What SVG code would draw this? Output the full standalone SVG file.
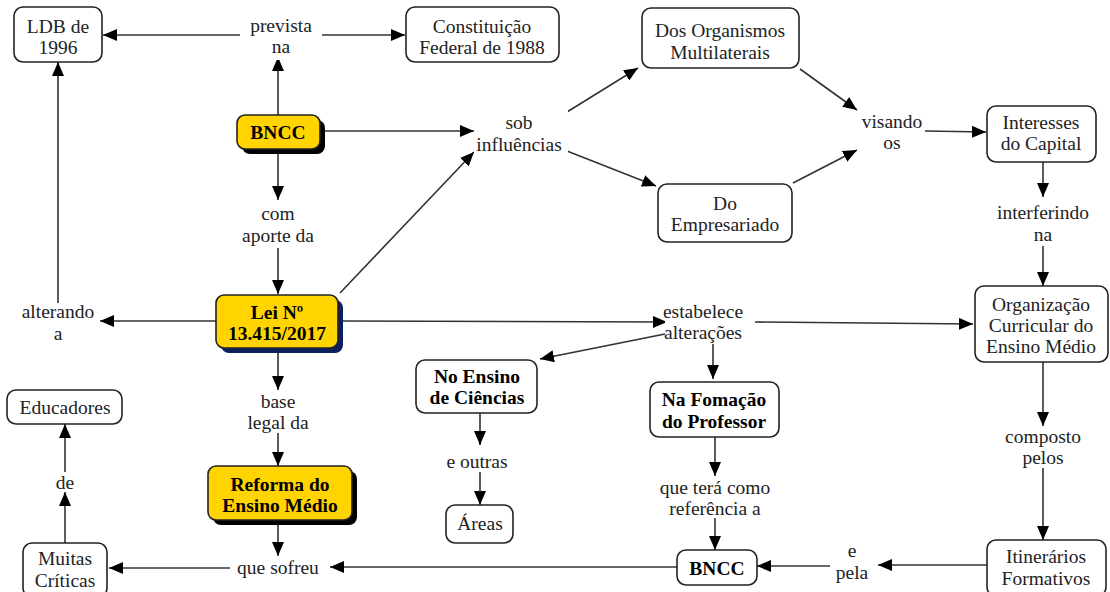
<svg xmlns="http://www.w3.org/2000/svg" width="1110" height="592" viewBox="0 0 1110 592">
<defs>
<marker id="ah" markerWidth="14" markerHeight="12" refX="14" refY="6" orient="auto" markerUnits="userSpaceOnUse">
<path d="M0,0 L14,6 L0,12 z" fill="#000"/>
</marker>
<style>
.box{fill:#fff;stroke:#222;stroke-width:1.6}
.ybox{fill:#ffd400;stroke:#222;stroke-width:1.6}
.sh{fill:#000}
.shb{fill:#0d1f5e}
.t{font-family:"Liberation Serif","Times New Roman",serif;font-size:19.5px;fill:#222;text-anchor:middle;dominant-baseline:central}
.b{font-weight:bold;fill:#000}
.c line,.c path{stroke:#333;stroke-width:1.6;fill:none}
.a{marker-end:url(#ah)}
</style>
</defs>
<rect width="1110" height="592" fill="#fff"/>
<g class="c" id="connectors">
<line class="a" x1="240" y1="35" x2="103" y2="35"/>
<line class="a" x1="322" y1="35" x2="405" y2="35"/>
<line class="a" x1="278" y1="115" x2="278" y2="57"/>
<line class="a" x1="325" y1="131" x2="474" y2="131"/>
<line class="a" x1="567" y1="112" x2="638" y2="68"/>
<line class="a" x1="567" y1="151" x2="656" y2="186"/>
<line class="a" x1="800" y1="69" x2="857" y2="110"/>
<line class="a" x1="793" y1="183" x2="857" y2="150"/>
<line class="a" x1="925" y1="131" x2="986" y2="132"/>
<line class="a" x1="1043" y1="162" x2="1043" y2="197"/>
<line class="a" x1="1043" y1="246" x2="1043" y2="286"/>
<line class="a" x1="1043" y1="362" x2="1043" y2="426"/>
<line class="a" x1="1043" y1="468" x2="1043" y2="540"/>
<line class="a" x1="987" y1="565" x2="878" y2="565"/>
<line class="a" x1="830" y1="566" x2="757" y2="566"/>
<line class="a" x1="677" y1="567" x2="330" y2="567"/>
<line class="a" x1="278" y1="524" x2="278" y2="556"/>
<line class="a" x1="232" y1="568" x2="109" y2="568"/>
<line class="a" x1="65" y1="543" x2="65" y2="492"/>
<line class="a" x1="65" y1="472" x2="65" y2="424"/>
<line class="a" x1="278" y1="148" x2="278" y2="200"/>
<line class="a" x1="278" y1="248" x2="278" y2="294"/>
<line class="a" x1="216" y1="321" x2="100" y2="321"/>
<line class="a" x1="58" y1="303" x2="58" y2="62"/>
<line class="a" x1="340" y1="293" x2="474" y2="152"/>
<line class="a" x1="343" y1="321" x2="667" y2="322"/>
<line class="a" x1="755" y1="322" x2="973" y2="324"/>
<line class="a" x1="665" y1="334" x2="540" y2="359"/>
<line class="a" x1="713" y1="343" x2="713" y2="379"/>
<line class="a" x1="480" y1="413" x2="480" y2="445"/>
<line class="a" x1="480" y1="472" x2="480" y2="505"/>
<line class="a" x1="715" y1="437" x2="715" y2="476"/>
<line class="a" x1="715" y1="518" x2="715" y2="550"/>
<line class="a" x1="278" y1="348" x2="278" y2="390"/>
<line class="a" x1="278" y1="433" x2="278" y2="466"/>
</g>
<g id="labels">
<rect x="240" y="14" width="82" height="46" fill="#fff"/>
<text class="t" x="281" y="25">prevista</text><text class="t" x="281" y="46">na</text>
<rect x="474" y="110" width="94" height="46" fill="#fff"/>
<text class="t" x="519" y="122">sob</text><text class="t" x="519" y="144">influências</text>
<rect x="857" y="110" width="68" height="44" fill="#fff"/>
<text class="t" x="892" y="121">visando</text><text class="t" x="892" y="142">os</text>
<rect x="991" y="200" width="104" height="46" fill="#fff"/>
<text class="t" x="1043" y="212">interferindo</text><text class="t" x="1043" y="234">na</text>
<rect x="1003" y="426" width="80" height="42" fill="#fff"/>
<text class="t" x="1043" y="436">composto</text><text class="t" x="1043" y="457">pelos</text>
<text class="t" x="852" y="550">e</text><text class="t" x="852" y="572">pela</text>
<rect x="230" y="556" width="96" height="24" fill="#fff"/>
<text class="t" x="278" y="567">que sofreu</text>
<rect x="50" y="472" width="30" height="20" fill="#fff"/>
<text class="t" x="65" y="482">de</text>
<rect x="252" y="200" width="52" height="48" fill="#fff"/>
<text class="t" x="278" y="213">com</text><text class="t" x="278" y="235">aporte da</text>
<rect x="16" y="303" width="84" height="40" fill="#fff"/>
<text class="t" x="58" y="311">alterando</text><text class="t" x="58" y="333">a</text>
<rect x="665" y="300" width="90" height="44" fill="#fff"/>
<text class="t" x="703" y="311">estabelece</text><text class="t" x="703" y="332">alterações</text>
<text class="t" x="477" y="461">e outras</text>
<rect x="650" y="476" width="130" height="42" fill="#fff"/>
<text class="t" x="715" y="487">que terá como</text><text class="t" x="715" y="508">referência a</text>
<rect x="244" y="390" width="68" height="43" fill="#fff"/>
<text class="t" x="278" y="401">base</text><text class="t" x="278" y="422">legal da</text>
</g>
<g id="ldb"><rect class="box" x="14" y="7" width="88" height="55" rx="9"/><text class="t" x="58" y="26">LDB de</text><text class="t" x="58" y="47">1996</text></g>
<g id="constituicao"><rect class="box" x="406" y="7" width="153" height="55" rx="9"/><text class="t" x="482" y="26">Constituição</text><text class="t" x="482" y="47">Federal de 1988</text></g>
<g id="bncc-top"><rect class="sh" x="242" y="120" width="83" height="34" rx="8"/><rect class="ybox" x="237" y="115" width="83" height="34" rx="8"/><text class="t b" x="278" y="132">BNCC</text></g>
<g id="organismos"><rect class="box" x="642" y="8" width="157" height="60" rx="9"/><text class="t" x="720" y="30">Dos Organismos</text><text class="t" x="720" y="52">Multilaterais</text></g>
<g id="empresariado"><rect class="box" x="658" y="184" width="134" height="58" rx="9"/><text class="t" x="725" y="203">Do</text><text class="t" x="725" y="224">Empresariado</text></g>
<g id="interesses"><rect class="box" x="987" y="106" width="109" height="56" rx="9"/><text class="t" x="1041" y="122">Interesses</text><text class="t" x="1041" y="143">do Capital</text></g>
<g id="organizacao"><rect class="box" x="975" y="286" width="133" height="76" rx="9"/><text class="t" x="1041" y="304">Organização</text><text class="t" x="1041" y="325">Curricular do</text><text class="t" x="1041" y="346">Ensino Médio</text></g>
<g id="itinerarios"><rect class="box" x="987" y="540" width="119" height="56" rx="9"/><text class="t" x="1046" y="556">Itinerários</text><text class="t" x="1046" y="578">Formativos</text></g>
<g id="bncc-bottom"><rect class="box" x="677" y="550" width="80" height="35" rx="9"/><text class="t b" x="717" y="568">BNCC</text></g>
<g id="criticas"><rect class="box" x="23" y="543" width="84" height="54" rx="9"/><text class="t" x="65" y="558">Muitas</text><text class="t" x="65" y="580">Críticas</text></g>
<g id="educadores"><rect class="box" x="7" y="390" width="115" height="34" rx="9"/><text class="t" x="65" y="407">Educadores</text></g>
<g id="lei"><rect class="shb" x="221" y="300" width="122" height="53" rx="8"/><rect class="ybox" x="216" y="295" width="122" height="53" rx="8"/><text class="t b" x="277" y="312">Lei Nº</text><text class="t b" x="277" y="333">13.415/2017</text></g>
<g id="ciencias"><rect class="box" x="416" y="360" width="121" height="53" rx="9"/><text class="t b" x="477" y="376">No Ensino</text><text class="t b" x="477" y="397">de Ciências</text></g>
<g id="areas"><rect class="box" x="446" y="505" width="67" height="38" rx="9"/><text class="t" x="480" y="523">Áreas</text></g>
<g id="formacao"><rect class="box" x="650" y="382" width="129" height="55" rx="9"/><text class="t b" x="714" y="399">Na Fomação</text><text class="t b" x="714" y="421">do Professor</text></g>
<g id="reforma"><rect class="sh" x="213" y="471" width="144" height="54" rx="8"/><rect class="ybox" x="208" y="466" width="144" height="54" rx="8"/><text class="t b" x="280" y="484">Reforma do</text><text class="t b" x="280" y="505">Ensino Médio</text></g>
</svg>
